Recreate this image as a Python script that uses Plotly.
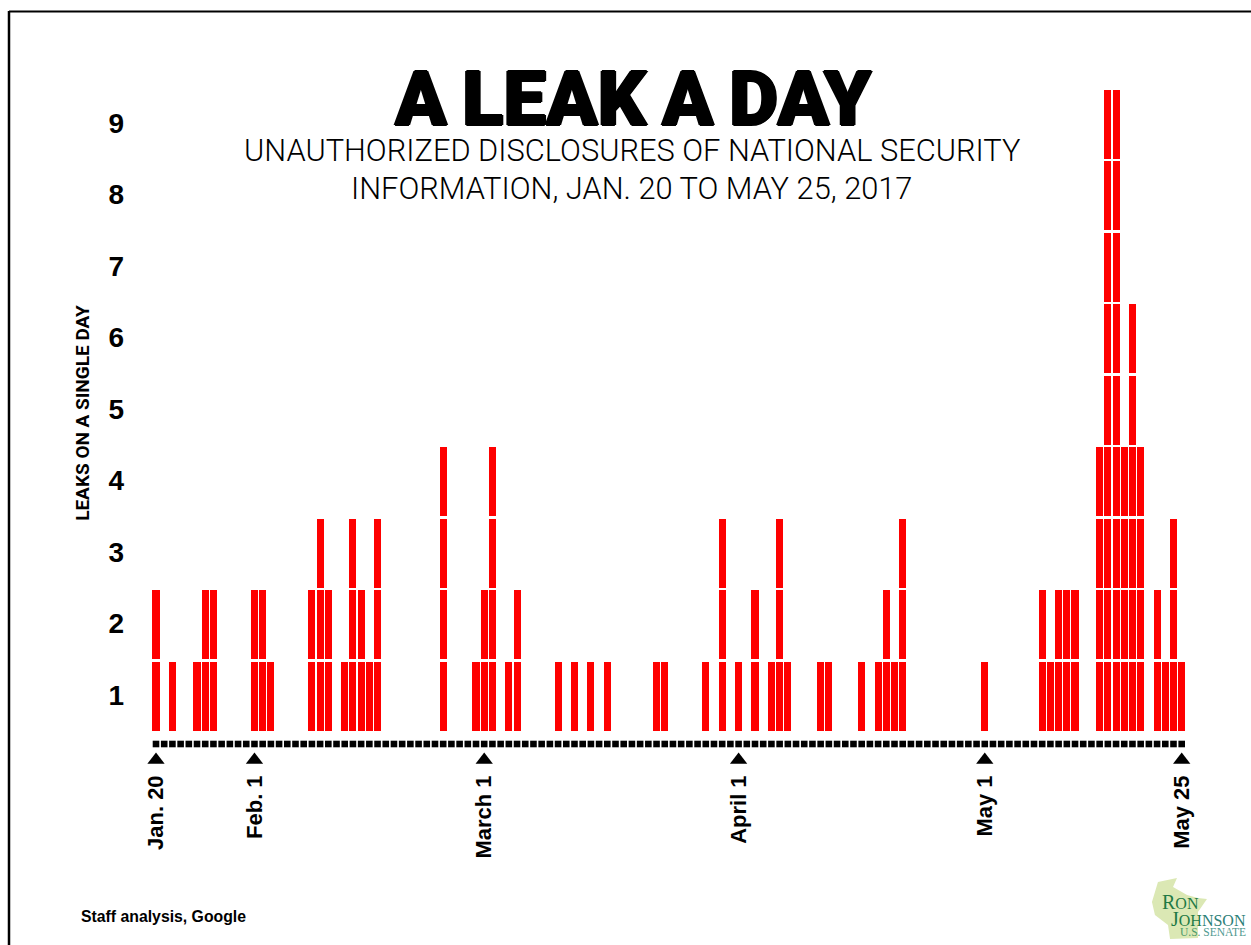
import plotly.graph_objects as go

days = [0,2,5,6,7,12,13,14,19,20,21,23,24,25,26,27,35,39,40,41,43,44,
        49,51,53,55,61,62,67,69,71,73,75,76,77,81,82,86,88,89,90,91,
        101,108,109,110,111,112,115,116,117,118,119,120,122,123,124,125]
counts = [2,1,1,2,2,2,2,1,2,3,2,1,3,2,1,3,4,1,2,4,1,2,
          1,1,1,1,1,1,1,3,1,2,1,3,1,1,1,1,1,2,1,3,
          1,2,1,2,2,2,4,9,9,4,6,4,2,1,3,1]
tick_days = [0,12,40,71,101,125]
tick_labels = ["Jan. 20","Feb. 1","March 1","April 1","May 1","May 25"]
all_days = list(range(126))
y_ticks = [1,2,3,4,5,6,7,8,9]

W, H = 1251, 945
seg_x, seg_base = [], []
for d, c in zip(days, counts):
    for k in range(c):
        seg_x.append(d)
        seg_base.append(0.5 + k)

L, R, T, B = 130, 1200, 56, 770
px_day = (1181.7 - 156) / 125
x0 = 0 - (156 - L) / px_day
x1 = (R - 156) / px_day
px_y = 71.5
y_at = lambda py: 0.5 + (730.7 - py) / px_y

fig = go.Figure()
fig.add_bar(x=seg_x, y=[0.964]*len(seg_x), base=seg_base, width=7.1/px_day,
            marker=dict(color="#fe0000", line=dict(width=0)), hoverinfo="x+y")
fig.add_scatter(x=all_days, y=[y_at(744)]*len(all_days), mode="markers",
                marker=dict(symbol="square", size=6.6, color="#000"), cliponaxis=False)
fig.add_scatter(x=tick_days, y=[y_at(760)]*len(tick_days), mode="markers",
                marker=dict(symbol="triangle-up", size=15, color="#000"), cliponaxis=False)

sans = "Liberation Sans"
fig.update_layout(
    width=W, height=H, autosize=False, showlegend=False,
    margin=dict(l=L, r=W-R, t=T, b=H-B),
    paper_bgcolor="#fff", plot_bgcolor="#fff",
    bargap=0,
    xaxis=dict(range=[x0, x1], tickmode="array", tickvals=tick_days, ticktext=tick_labels,
               tickangle=-90, showgrid=False, zeroline=False, showline=False, ticks="",
               tickfont=dict(family=sans, size=22, color="#000", weight=700)),
    yaxis=dict(range=[y_at(B), y_at(T)], tickmode="array", tickvals=y_ticks,
               showgrid=False, zeroline=False, showline=False, ticks="", ticklabelstandoff=5,
               tickfont=dict(family=sans, size=28, color="#000", weight=700),
               title=dict(text="<b>LEAKS ON A SINGLE DAY</b>", standoff=13,
                          font=dict(family="Roboto", size=19, color="#000"))),
)

def note(text, x, y, **kw):
    fig.add_annotation(xref="paper", yref="paper", x=(x-L)/(R-L), y=1-(y-T)/(B-T), text=text,
                       showarrow=False, xanchor=kw.pop("xanchor","center"), yanchor="middle", **kw)

note("A\u2009LEAK\u2009A\u2009DAY", 633, 99,
     font=dict(family="Roboto", size=76, color="#000", weight=900,
               shadow="1.2px 0 0 #000,-1.2px 0 0 #000,0 0.8px 0 #000,0 -0.8px 0 #000"))
note("UNAUTHORIZED DISCLOSURES OF NATIONAL SECURITY", 632, 150, font=dict(family="Roboto", size=30.8, color="#000", weight=300))
note("INFORMATION, JAN. 20 TO MAY 25, 2017", 631, 188, font=dict(family="Roboto", size=30.8, color="#000", weight=300))
note("Staff analysis, Google", 79, 916, xanchor="left", font=dict(family=sans, size=15.8, color="#000", weight=700))

# Wisconsin outline behind the logo
fig.add_shape(type="path", xref="paper", yref="paper", layer="below", line=dict(width=0), fillcolor="#dbe8b4",
              path="M " + " L ".join(f"{(px-L)/(R-L):.4f},{1-(py-T)/(B-T):.4f}" for px, py in
              [(1158,882),(1177,878),(1173,887),(1187,895),(1198,898),(1207,899),(1198,912),(1198,938),
               (1170,939),(1168,925),(1155,915),(1152,902)]) + " Z")
green = "#1f7a45"
note("R<span style='font-size:16px'>ON</span>", 1160, 902, xanchor="left", font=dict(family="Liberation Serif", size=20, color=green))
note("J<span style='font-size:16px'>OH</span><span style='font-size:16px;color:#2d7f78'>NSON</span>", 1169, 919, xanchor="left", font=dict(family="Liberation Serif", size=20, color=green))
note("U.S. <span style='color:#4f9a8f'>SENATE</span>", 1178, 932, xanchor="left", font=dict(family="Liberation Serif", size=11.5, color="#4c9a6a"))

# frame
for x_0, y_0, x_1, y_1, w in [(9,11.5,1251,11.5,1.8),(9,11,9,945,2.5)]:
    fig.add_shape(type="line", xref="paper", yref="paper",
                  x0=(x_0-L)/(R-L), x1=(x_1-L)/(R-L), y0=1-(y_0-T)/(B-T), y1=1-(y_1-T)/(B-T),
                  line=dict(color="#000", width=w))

fig.write_html("out.html", config=dict(displayModeBar=False),
               post_script="document.body.style.margin='0';document.body.style.overflow='hidden';")
